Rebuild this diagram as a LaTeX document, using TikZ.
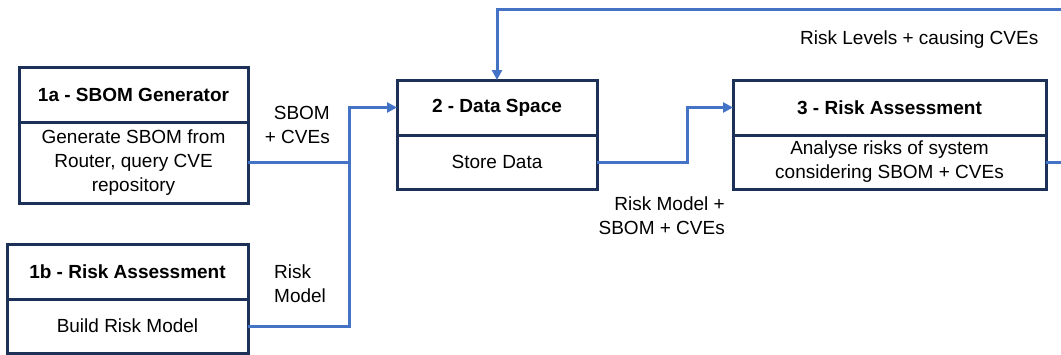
\documentclass[tikz,border=0pt]{standalone}
\usepackage{fontspec}
\setmainfont{Liberation Sans}
\usetikzlibrary{positioning,arrows.meta}
\definecolor{boxnavy}{RGB}{28,48,88}
\definecolor{flowblue}{RGB}{68,114,196}

\begin{document}
\begin{tikzpicture}[x=1pt,y=-1pt,
  font=\fontsize{19}{24}\selectfont,
  head/.style={draw=boxnavy,line width=3pt,minimum height=55pt,inner sep=0pt,outer sep=0pt,font=\fontsize{19}{24}\selectfont\bfseries},
  body/.style={draw=boxnavy,line width=3pt,inner sep=0pt,outer sep=0pt,align=center},
  link/.style={draw=flowblue,line width=3pt},
  flow/.style={link,-{Triangle[length=10pt,width=10pt]}},
  lbl/.style={inner sep=0pt}]
\useasboundingbox (0,0) rectangle (1061,354);

% Source boxes
\node[head,minimum width=229pt] (gen) at (133.5,94.5) {1a - SBOM Generator};
\node[body,minimum width=229pt,minimum height=81pt,below=0pt of gen] (genbody) {Generate SBOM from\\Router, query CVE\\repository};

\node[head,minimum width=241pt] (rm) at (127.5,271.5) {1b - Risk Assessment};
\node[body,minimum width=241pt,minimum height=54pt,below=0pt of rm] (rmbody) {Build Risk Model};

% Data space
\node[head,minimum width=200pt] (ds) at (497,107.5) {2 - Data Space};
\node[body,minimum width=200pt,minimum height=54pt,below=0pt of ds] (dsbody) {Store Data};

% Risk assessment
\node[head,minimum width=313pt] (ra) at (889.5,107.5) {3 - Risk Assessment};
\node[body,minimum width=313pt,minimum height=54pt,below=0pt of ra] (rabody) {Analyse risks of system\\considering SBOM + CVEs};

% Connection lines
\coordinate (jn) at (349,162.5);
\coordinate (fbtop) at (1090,9.5);
\draw[flow] (genbody.east) -- (jn) |- (ds.west);
\draw[link] (rmbody.east) -| (jn);
\draw[flow] (dsbody.east) -- ++(90,0) |- (ra.west);
\draw[flow] (rabody.east) -| (fbtop) -| (ds.north);

% Flow labels
\node[lbl,anchor=east,align=right] (sbomlbl) at (330,125) {SBOM\\+ CVEs};
\node[lbl,anchor=west,align=left] (modellbl) at (274,284) {Risk\\Model};
\node[lbl,anchor=east,align=right] (inputlbl) at (725,216) {Risk Model +\\SBOM + CVEs};
\node[lbl,anchor=west] (levellbl) at (800,40) {Risk Levels + causing CVEs};
\end{tikzpicture}
\end{document}
